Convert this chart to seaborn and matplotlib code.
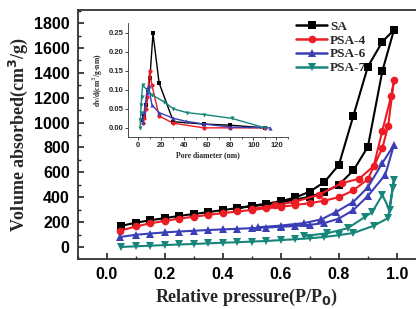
import numpy as np
import pandas as pd
import matplotlib
matplotlib.use("Agg")
import matplotlib.pyplot as plt
from matplotlib.ticker import MultipleLocator
import seaborn as sns

# N2 isotherms: adsorption branch then desorption branch (P/P0, cm3/g)
SA_ADS_P = [0.05, 0.10, 0.15, 0.20, 0.25, 0.30, 0.35, 0.40, 0.45, 0.50, 0.55, 0.60, 0.65, 0.70, 0.75, 0.80, 0.85, 0.90, 0.95, 0.99]
SA_ADS_V = [170, 195, 215, 232, 250, 265, 280, 297, 312, 327, 342, 360, 380, 405, 440, 500, 615, 805, 1415, 1745]
SA_DES_P = [0.95, 0.90, 0.85, 0.80, 0.75, 0.70, 0.65, 0.60, 0.55, 0.50, 0.45]
SA_DES_V = [1650, 1450, 1055, 660, 522, 445, 398, 368, 348, 330, 314]

PSA4_ADS_P = [0.045, 0.10, 0.15, 0.20, 0.25, 0.30, 0.35, 0.40, 0.45, 0.50, 0.55, 0.60, 0.65, 0.70, 0.75, 0.80, 0.85, 0.90, 0.95, 0.97, 0.99]
PSA4_ADS_V = [130, 165, 190, 210, 228, 243, 258, 272, 285, 298, 310, 323, 337, 352, 372, 400, 455, 545, 795, 975, 1340]
PSA4_DES_P = [0.98, 0.95, 0.92, 0.87, 0.81, 0.73, 0.65, 0.58, 0.50]
PSA4_DES_V = [1210, 935, 650, 548, 513, 418, 365, 335, 305]

PSA6_ADS_P = [0.045, 0.10, 0.15, 0.20, 0.25, 0.30, 0.35, 0.40, 0.45, 0.50, 0.55, 0.60, 0.65, 0.70, 0.75, 0.80, 0.85, 0.90, 0.96, 0.99]
PSA6_ADS_V = [80, 98, 108, 117, 124, 130, 136, 141, 146, 151, 156, 162, 168, 178, 192, 228, 297, 410, 580, 820]
PSA6_DES_P = [0.95, 0.90, 0.85, 0.79, 0.74, 0.68, 0.60, 0.52]
PSA6_DES_V = [675, 480, 362, 281, 222, 192, 172, 158]

PSA7_ADS_P = [0.05, 0.10, 0.15, 0.20, 0.25, 0.30, 0.35, 0.40, 0.45, 0.50, 0.55, 0.60, 0.65, 0.70, 0.75, 0.80, 0.85, 0.92, 0.97, 0.985, 0.99]
PSA7_ADS_V = [0, 5, 10, 15, 20, 24, 29, 34, 38, 43, 48, 55, 62, 70, 80, 95, 112, 170, 233, 474, 540]
PSA7_DES_P = [0.975, 0.95, 0.915, 0.89, 0.83, 0.76, 0.68]
PSA7_DES_V = [297, 418, 281, 241, 150, 110, 88]

# pore size distribution (inset)
SA_D = [3, 5, 7, 8.5, 10, 12.7, 18, 30.5, 57, 80, 110]
SA_DV = [0.02, 0.03, 0.06, 0.1, 0.13, 0.248, 0.118, 0.016, 0.01, 0.007, 0.0]
PSA4_D = [3.8, 5.2, 6.5, 7.8, 9.8, 11.8, 18, 30.5, 57, 80, 110]
PSA4_DV = [0.013, 0.025, 0.05, 0.082, 0.148, 0.112, 0.031, 0.012, 0.0, 0.0, 0.0]
PSA6_D = [3.8, 5.2, 7.5, 8.9, 11.8, 18, 30.5, 41.5, 57, 80, 114]
PSA6_DV = [0.015, 0.045, 0.095, 0.11, 0.06, 0.04, 0.025, 0.017, 0.01, 0.002, 0.0]
PSA7_D = [1.5, 1.8, 2.1, 2.4, 2.8, 3.7, 11.8, 22, 30.5, 42, 57, 81, 110]
PSA7_DV = [0.0, 0.02, 0.04, 0.06, 0.08, 0.112, 0.086, 0.069, 0.05, 0.04, 0.035, 0.025, 0.0]

NAMES = ["SA", "PSA-4", "PSA-6", "PSA-7"]
COLORS = {"SA": "#000000", "PSA-4": "#ec1c24", "PSA-6": "#3b3fb5", "PSA-7": "#16857a"}
MARKERS = {"SA": "s", "PSA-4": "o", "PSA-6": "^", "PSA-7": "v"}

iso = {
    "SA": (SA_ADS_P + SA_DES_P, SA_ADS_V + SA_DES_V),
    "PSA-4": (PSA4_ADS_P + PSA4_DES_P, PSA4_ADS_V + PSA4_DES_V),
    "PSA-6": (PSA6_ADS_P + PSA6_DES_P, PSA6_ADS_V + PSA6_DES_V),
    "PSA-7": (PSA7_ADS_P + PSA7_DES_P, PSA7_ADS_V + PSA7_DES_V),
}
psd = {
    "SA": (SA_D, SA_DV),
    "PSA-4": (PSA4_D, PSA4_DV),
    "PSA-6": (PSA6_D, PSA6_DV),
    "PSA-7": (PSA7_D, PSA7_DV),
}

df_iso = pd.concat([pd.DataFrame({"p": p, "v": v, "sample": k}) for k, (p, v) in iso.items()], ignore_index=True)
df_psd = pd.concat([pd.DataFrame({"d": d, "dv": v, "sample": k}) for k, (d, v) in psd.items()], ignore_index=True)

sns.set_theme(style="white")
plt.rcParams["font.family"] = ["Liberation Sans", "DejaVu Sans"]
plt.rcParams["xtick.direction"] = "in"
plt.rcParams["ytick.direction"] = "in"

fig = plt.figure(figsize=(4.16, 3.09), dpi=100)
ax = fig.add_axes([0.1875, 0.1618, 0.8125, 0.8058])

sns.lineplot(data=df_iso, x="p", y="v", hue="sample", style="sample", hue_order=NAMES,
             style_order=NAMES, palette=COLORS, markers=MARKERS, dashes=False,
             estimator=None, sort=False, lw=1.5, markersize=5.5, markeredgewidth=0,
             ax=ax)

ax.set_xlim(-0.1, 1.066)
ax.set_ylim(-97, 1905)
ax.xaxis.set_minor_locator(MultipleLocator(0.1))
ax.yaxis.set_minor_locator(MultipleLocator(100))
ax.set_yticks(np.arange(0, 1801, 200))
ax.set_xticks(np.arange(0, 1.01, 0.2))
ax.set_xticklabels([f"{t:.1f}" for t in np.arange(0, 1.01, 0.2)])
ax.tick_params(which="major", length=4, width=1.2, labelsize=11.5, pad=6, colors="#222222")
ax.tick_params(which="minor", length=2.5, width=1.0)
ax.tick_params(axis="both", which="both", bottom=True, left=True, labelcolor="black")
for lab in ax.get_xticklabels() + ax.get_yticklabels():
    lab.set_fontweight("bold")
for s in ["left", "bottom", "top"]:
    ax.spines[s].set_color("#333333")
    ax.spines[s].set_linewidth(1.3)
ax.spines["right"].set_visible(False)

ax.set_xlabel("Relative pressure(P/P$_\\mathbf{0}$)", fontsize=13, fontweight="bold",
              family="Liberation Serif", labelpad=3)
ax.set_ylabel("Volume absorbed(cm$^\\mathbf{3}$/g)", fontsize=13, fontweight="bold",
              family="Liberation Serif", labelpad=3)

leg = ax.legend(loc="upper left", bbox_to_anchor=(0.615, 1.0), frameon=False,
                handlelength=2.3, handletextpad=0.25, labelspacing=0.12, borderpad=0.3,
                prop={"family": "Liberation Serif", "weight": "bold", "size": 9.5})
for h in leg.get_lines():
    h.set_linewidth(1.8)

# inset
ins = fig.add_axes([0.3077, 0.5566, 0.3846, 0.369])
sns.lineplot(data=df_psd, x="d", y="dv", hue="sample", style="sample", hue_order=NAMES,
             style_order=NAMES, palette=COLORS, markers=MARKERS, dashes=False,
             estimator=None, sort=False, lw=1.0, markersize=3, markeredgewidth=0,
             legend=False, ax=ins)
ins.set_xlim(-9, 130)
ins.set_ylim(-0.024, 0.275)
ins.set_xticks([0, 20, 40, 60, 80, 100, 120])
ins.xaxis.set_minor_locator(MultipleLocator(10))
ins.set_yticks([0.0, 0.05, 0.10, 0.15, 0.20, 0.25])
ins.set_yticklabels(["0.00", "0.05", "0.10", "0.15", "0.20", "0.25"])
ins.tick_params(which="major", direction="out", length=2, width=0.6, labelsize=5.5, pad=1.5)
ins.tick_params(which="minor", direction="out", length=1.2, width=0.5)
ins.tick_params(axis="both", which="both", bottom=True, left=True)
for lab in ins.get_xticklabels() + ins.get_yticklabels():
    lab.set_fontweight("bold")
ins.patch.set_alpha(0)
for s in ["top", "right"]:
    ins.spines[s].set_visible(False)
for s in ["left", "bottom"]:
    ins.spines[s].set_color("#333333")
    ins.spines[s].set_linewidth(0.6)
ins.set_xlabel("Pore diameter (nm)", fontsize=5.5, fontweight="bold", family="Liberation Serif", labelpad=2)
ins.set_ylabel("dv/d(cm$^3$/g·nm)", fontsize=5.5, fontweight="bold", family="Liberation Serif", labelpad=2)

fig.savefig("out.png", dpi=100)
